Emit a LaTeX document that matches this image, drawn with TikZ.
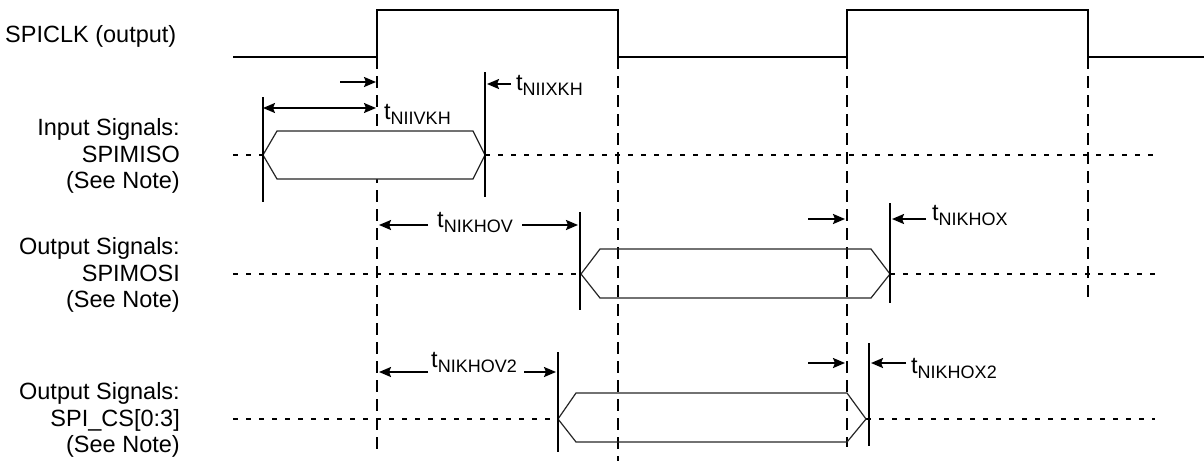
\documentclass[tikz,border=0pt]{standalone}
\usepackage{fontspec}
\setmainfont{Liberation Sans}
\usetikzlibrary{arrows.meta}
\newcommand{\tlab}[1]{t\raisebox{-5pt}{\fontsize{18}{18}\selectfont #1}}
\begin{document}
\begin{tikzpicture}[x=1pt,y=-1pt,
  clk/.style={line width=2.4pt},
  guide/.style={line width=2pt, dash pattern=on 12pt off 7pt},
  dotline/.style={line width=1.6pt, dash pattern=on 5pt off 8pt},
  bar/.style={line width=2pt},
  hexa/.style={line width=1.2pt, draw=black!85, line join=miter},
  tarr/.style={line width=2pt, -{Stealth[length=12pt,width=10pt,inset=2pt]}},
  darr/.style={line width=1.6pt, {Stealth[length=12pt,width=10pt,inset=2pt]}-{Stealth[length=12pt,width=10pt,inset=2pt]}},
  lab/.style={font=\fontsize{23.5}{26.5}\selectfont, align=right, inner sep=0pt},
  tl/.style={font=\fontsize{23.5}{26}\selectfont, inner sep=0pt}]
\useasboundingbox (0,0) rectangle (1204,461);

% ---------- labels ----------
\node[tl, anchor=west] (lclk) at (5,36) {SPICLK (output)};
\node[lab, anchor=east] (lmiso) at (180,156) {Input Signals:\\SPIMISO\\(See Note)};
\node[lab, anchor=east] (lmosi) at (180,275) {Output Signals:\\SPIMOSI\\(See Note)};
\node[lab, anchor=east] (lcs) at (180,420) {Output Signals:\\SPI\_CS[0:3]\\(See Note)};

% ---------- clock ----------
\coordinate (c0) at (233,57);
\coordinate (r1l) at (377,57); \coordinate (r1h) at (377,10);
\coordinate (f1h) at (618,10); \coordinate (f1l) at (618,57);
\coordinate (r2l) at (847,57); \coordinate (r2h) at (847,10);
\coordinate (f2h) at (1088,10); \coordinate (f2l) at (1088,57);
\coordinate (c9) at (1204,57);
\draw[clk] (c0) -- (r1l) -- (r1h) -- (f1h) -- (f1l) -- (r2l) -- (r2h) -- (f2h) -- (f2l) -- (c9);

% ---------- dashed guides ----------
\coordinate (g1e) at (377,452);
\coordinate (g2e) at (618,461);
\coordinate (g3e) at (847,447);
\coordinate (g4e) at (1088,303);
\draw[guide] (r1l) -- (g1e);
\draw[guide] (f1l) -- (g2e);
\draw[guide] (r2l) -- (g3e);
\draw[guide] (f2l) -- (g4e);

% ---------- SPIMISO ----------
\coordinate (m0) at (233,155); \coordinate (mL) at (263,155);
\coordinate (mR) at (485,155); \coordinate (m9) at (1155,155);
\draw[dotline] (m0) -- (mL);
\draw[dotline] (mR) -- (m9);
\draw[hexa, fill=white] (mL) -- (277,131) -- (473,131) -- (mR) -- (473,179) -- (277,179) -- cycle;
\coordinate (mb1t) at (263,97); \coordinate (mb1b) at (263,202);
\coordinate (mb2t) at (485,72); \coordinate (mb2b) at (485,197);
\draw[bar] (mb1t) -- (mb1b);
\draw[bar] (mb2t) -- (mb2b);
% t_NIIVKH
\coordinate (a1s) at (340,82); \coordinate (a1e) at (376,82);
\draw[tarr] (a1s) -- (a1e);
\coordinate (d1s) at (263,108); \coordinate (d1e) at (376,108);
\draw[darr] (d1s) -- (d1e);
\node[tl, anchor=west] (tniivkh) at (384,114) {\tlab{NIIVKH}};
% t_NIIXKH
\node[tl, anchor=west] (tniixkh) at (516,85) {\tlab{NIIXKH}};
\coordinate (a2s) at (511,84); \coordinate (a2e) at (487,84);
\draw[tarr] (a2s) -- (a2e);

% ---------- SPIMOSI ----------
\coordinate (o0) at (233,274); \coordinate (oL) at (581,274);
\coordinate (oR) at (890,274); \coordinate (o9) at (1155,274);
\draw[dotline] (o0) -- (oL);
\draw[dotline] (oR) -- (o9);
\draw[hexa] (oL) -- (600,249) -- (871,249) -- (oR) -- (871,298) -- (600,298) -- cycle;
\coordinate (ob1t) at (580,212); \coordinate (ob1b) at (580,310);
\coordinate (ob2t) at (890,203); \coordinate (ob2b) at (890,303);
\draw[bar] (ob1t) -- (ob1b);
\draw[bar] (ob2t) -- (ob2b);
% t_NIKHOV
\node[tl] (tnikhov) at (475,222) {\tlab{NIKHOV}};
\coordinate (a3s) at (428,225); \coordinate (a3e) at (379,225);
\coordinate (a4s) at (522,225); \coordinate (a4e) at (578,225);
\draw[tarr] (a3s) -- (a3e);
\draw[tarr] (a4s) -- (a4e);
% t_NIKHOX
\coordinate (a5s) at (808,219); \coordinate (a5e) at (845,219);
\draw[tarr] (a5s) -- (a5e);
\node[tl, anchor=west] (tnikhox) at (932,215) {\tlab{NIKHOX}};
\coordinate (a6s) at (926,219); \coordinate (a6e) at (892,219);
\draw[tarr] (a6s) -- (a6e);

% ---------- SPI_CS ----------
\coordinate (s0) at (233,419); \coordinate (sL) at (558,419);
\coordinate (sR) at (866,419); \coordinate (s9) at (1155,419);
\draw[dotline] (s0) -- (sL);
\draw[dotline] (sR) -- (s9);
\draw[hexa] (sL) -- (576,393) -- (847,393) -- (sR) -- (847,442) -- (576,442) -- cycle;
\coordinate (sb1t) at (558,352); \coordinate (sb1b) at (558,452);
\coordinate (sb2t) at (869,343); \coordinate (sb2b) at (869,446);
\draw[bar] (sb1t) -- (sb1b);
\draw[bar] (sb2t) -- (sb2b);
% t_NIKHOV2
\node[tl] (tnikhov2) at (474,362) {\tlab{NIKHOV2}};
\coordinate (a7s) at (428,372); \coordinate (a7e) at (379,372);
\coordinate (a8s) at (524,372); \coordinate (a8e) at (556,372);
\draw[tarr] (a7s) -- (a7e);
\draw[tarr] (a8s) -- (a8e);
% t_NIKHOX2
\coordinate (a9s) at (808,363); \coordinate (a9e) at (845,363);
\draw[tarr] (a9s) -- (a9e);
\node[tl, anchor=west] (tnikhox2) at (911,368) {\tlab{NIKHOX2}};
\coordinate (a10s) at (906,363); \coordinate (a10e) at (871,363);
\draw[tarr] (a10s) -- (a10e);
\end{tikzpicture}
\end{document}
